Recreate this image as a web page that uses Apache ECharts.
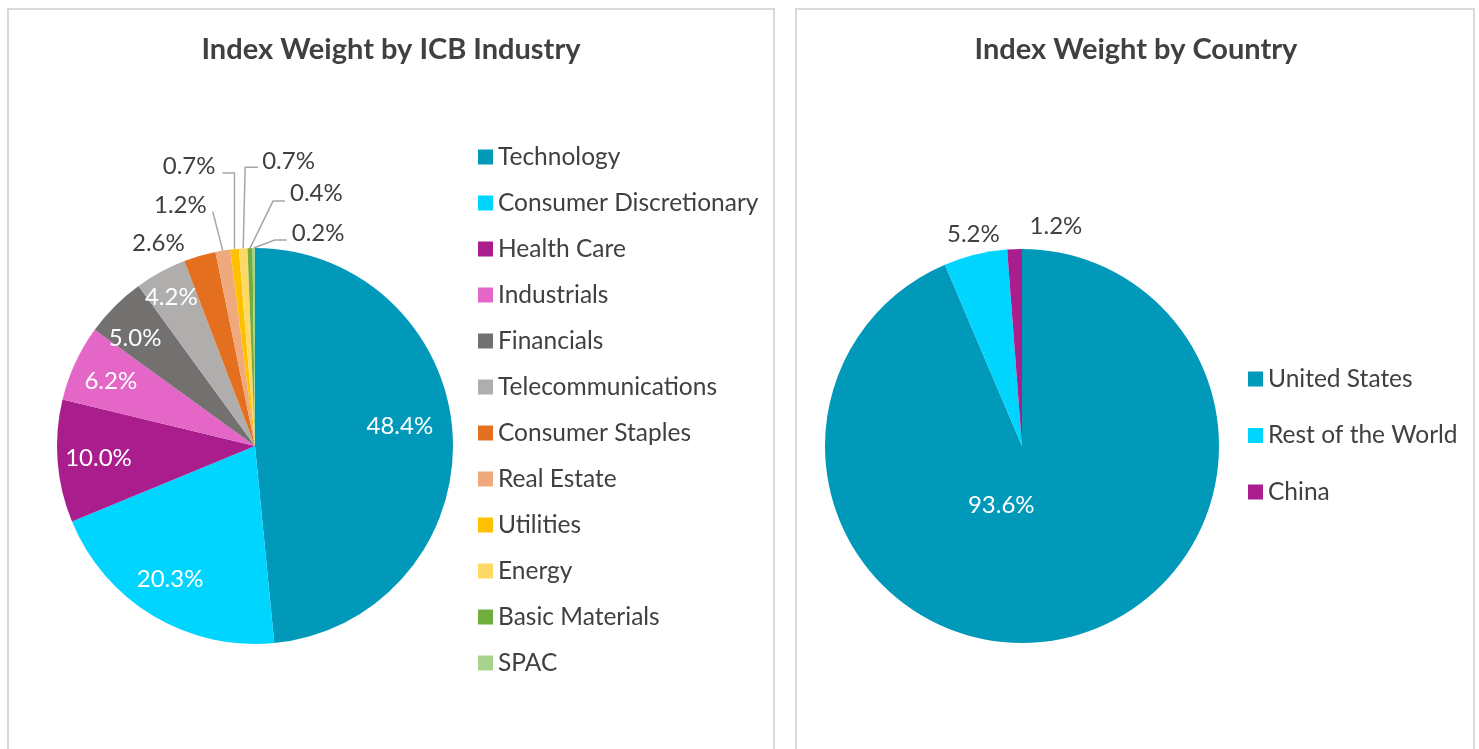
<!DOCTYPE html>
<html><head><meta charset="utf-8">
<script src="https://cdn.jsdelivr.net/npm/echarts@6/dist/echarts.min.js"></script>
<style>html,body{margin:0;padding:0;background:#fff;}#c{width:1479px;height:749px;}</style>
</head><body><div id="c"></div>
<script>
// ---- data ----
const industryNames = ['Technology','Consumer Discretionary','Health Care','Industrials','Financials','Telecommunications','Consumer Staples','Real Estate','Utilities','Energy','Basic Materials','SPAC'];
const industryWeights = [48.4, 20.3, 10.0, 6.2, 5.0, 4.2, 2.6, 1.2, 0.7, 0.7, 0.4, 0.2];
const countryNames = ['United States','Rest of the World','China'];
const countryWeights = [93.6, 5.2, 1.2];
const titles = ['Index Weight by ICB Industry', 'Index Weight by Country'];

// ---- styles ----
const industryColors = ['#0099b9','#00d5ff','#a91d8c','#e466c6','#737070','#b0adad','#e46f1f','#f0a97c','#ffc000','#ffd966','#6fae3f','#a8d38c'];
const countryColors = ['#0099b9','#00d5ff','#a91d8c'];
const F = 'Lato, "Noto Sans", sans-serif';
const TXT = '#404040';
const LEG = 24.5;
const LBL = 24;
const fmt = p => Number(p.value).toFixed(1) + '%';

// inside-label nudges (left pie) and outside label guide geometry relative to slice edge midpoint
const leftInsideOffsets = {0: [-16, -12], 1: [-2, -5], 2: [4, 0], 3: [2, 3], 4: [-6, 6], 5: [-7, -7]};
const leftOuter = {
  6:  {kink: [0, 0],    run: 0,   align: 'right', text: [-15, -13], line: false},
  7:  {kink: [-10, -39], run: 0,  align: 'right', text: [-6, -6],   line: true},
  8:  {kink: [0, -76],  run: -12, align: 'right', text: [-7, -7],   line: true},
  9:  {kink: [2, -81],  run: 13,  align: 'left',  text: [4, -6],    line: true},
  10: {kink: [23, -47], run: 12,  align: 'left',  text: [5, -8],    line: true},
  11: {kink: [21, -8],  run: 12,  align: 'left',  text: [5, -7],    line: true}
};
const rightOuter = {
  1: {kink: [0, 0], run: 0, align: 'center', text: [-2, -20], line: false},
  2: {kink: [0, 0], run: 0, align: 'left',   text: [15, -23], line: false}
};

function makeLayout(cfgMap) {
  return function (params) {
    const c = cfgMap[params.dataIndex];
    const pts = params.labelLinePoints;
    if (!c || !pts || !pts.length) return {};
    const p0 = pts[0];
    const k = [p0[0] + c.kink[0], p0[1] + c.kink[1]];
    const e = [k[0] + c.run, k[1]];
    return {
      x: e[0] + c.text[0],
      y: e[1] + c.text[1],
      align: c.align,
      verticalAlign: 'middle',
      labelLinePoints: c.line ? [p0, k, e] : [p0, p0, p0]
    };
  };
}

const chart = echarts.init(document.getElementById('c'), null, {renderer: 'canvas'});
chart.setOption({
  animation: false,
  backgroundColor: '#ffffff',
  graphic: [
    {type: 'rect', silent: true, z: -10, shape: {x: 8, y: 9, width: 766, height: 800}, style: {fill: 'none', stroke: '#d9d9d9', lineWidth: 2}},
    {type: 'rect', silent: true, z: -10, shape: {x: 796, y: 9, width: 678, height: 800}, style: {fill: 'none', stroke: '#d9d9d9', lineWidth: 2}}
  ],
  title: [
    {text: titles[0], left: 391, top: 35.5, textAlign: 'center', padding: 0,
     textStyle: {fontSize: 29, fontWeight: 'bold', color: TXT, fontFamily: F}},
    {text: titles[1], left: 1136, top: 35.5, textAlign: 'center', padding: 0,
     textStyle: {fontSize: 29, fontWeight: 'bold', color: TXT, fontFamily: F}}
  ],
  legend: [
    {data: industryNames, orient: 'vertical', left: 478, top: 144.5, padding: 0, icon: 'rect',
     itemWidth: 15, itemHeight: 15, itemGap: 46 - LEG - 0.5, selectedMode: false,
     textStyle: {fontSize: LEG, color: TXT, fontFamily: F}},
    {data: countryNames, orient: 'vertical', left: 1248, top: 366.5, padding: 0, icon: 'rect',
     itemWidth: 15, itemHeight: 15, itemGap: 56.5 - LEG - 0.5, selectedMode: false,
     textStyle: {fontSize: LEG, color: TXT, fontFamily: F}}
  ],
  series: [
    {
      type: 'pie', name: 'Industry', center: [255, 446], radius: [0, 198], startAngle: 90, clockwise: true,
      avoidLabelOverlap: false, emphasis: {scale: false},
      data: industryNames.map((n, i) => ({
        name: n, value: industryWeights[i], itemStyle: {color: industryColors[i]},
        label: {show: i >= 6}, labelLine: {show: i >= 6}
      })),
      label: {position: 'outside', color: TXT, fontSize: LBL, fontFamily: F, formatter: fmt},
      labelLine: {length: 10, length2: 10, lineStyle: {color: '#a6a6a6', width: 1.5}},
      labelLayout: makeLayout(leftOuter)
    },
    {
      type: 'pie', name: 'IndustryLabels', center: [255, 446], radius: [118, 198], startAngle: 90, clockwise: true,
      silent: true, avoidLabelOverlap: false, emphasis: {scale: false},
      data: industryNames.map((n, i) => ({
        name: n, value: industryWeights[i], itemStyle: {color: 'rgba(0,0,0,0)'},
        label: {show: i < 6, offset: leftInsideOffsets[i] || [0, 0]}, labelLine: {show: false}
      })),
      label: {position: 'inside', color: '#ffffff', fontSize: LBL, fontFamily: F, formatter: fmt}
    },
    {
      type: 'pie', name: 'Country', center: [1022, 446], radius: [0, 197], startAngle: 90, clockwise: true,
      avoidLabelOverlap: false, emphasis: {scale: false},
      data: countryNames.map((n, i) => ({
        name: n, value: countryWeights[i], itemStyle: {color: countryColors[i]},
        label: i === 0 ? {position: 'inside', color: '#ffffff', offset: [-41, -40]} : {position: 'outside'},
        labelLine: {show: i > 0}
      })),
      label: {show: true, position: 'outside', color: TXT, fontSize: LBL, fontFamily: F, formatter: fmt},
      labelLine: {length: 10, length2: 10, lineStyle: {color: '#a6a6a6', width: 1.5}},
      labelLayout: makeLayout(rightOuter)
    }
  ]
});
</script>
</body></html>
